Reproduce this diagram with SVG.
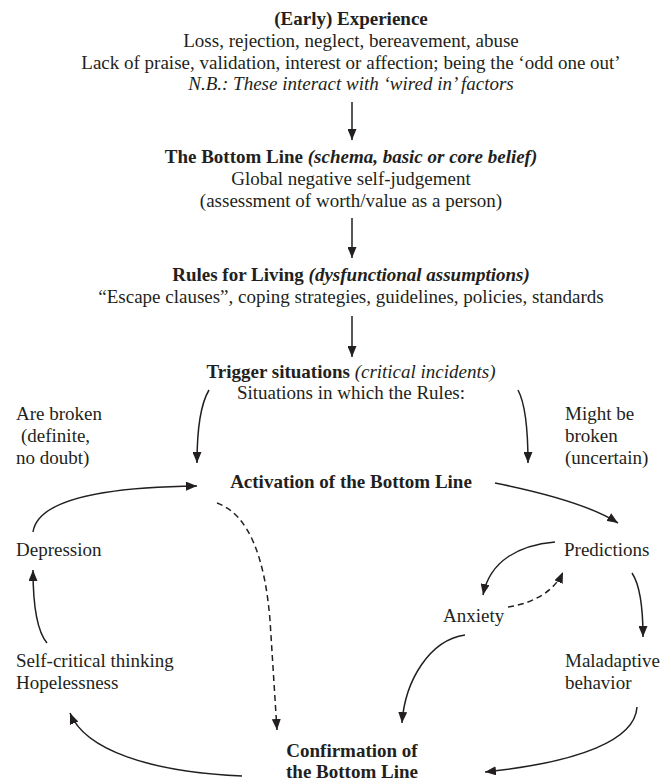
<svg xmlns="http://www.w3.org/2000/svg" width="671" height="784" viewBox="0 0 671 784">
<style>
text{font-family:"Liberation Serif","Times New Roman",serif;font-size:19px;fill:#231f20}
.c{text-anchor:middle}
.b{font-weight:bold}
.i{font-style:italic}
.ln{fill:none;stroke:#231f20;stroke-width:1.5}
.d{stroke-dasharray:6,4}
</style>
<defs>
<marker id="ah" markerUnits="userSpaceOnUse" markerWidth="11" markerHeight="9" refX="11" refY="4.5" orient="auto">
<path d="M0,0 L11,4.5 L0,9 z" fill="#231f20"/>
</marker>
</defs>
<rect width="671" height="784" fill="#fff"/>
<g id="experience">
<text class="c b" x="351" y="25">(Early) Experience</text>
<text class="c" x="351" y="47">Loss, rejection, neglect, bereavement, abuse</text>
<text class="c" x="351" y="69">Lack of praise, validation, interest or affection; being the ‘odd one out’</text>
<text class="c i" x="351" y="90">N.B.: These interact with ‘wired in’ factors</text>
</g>
<g id="bottom-line">
<text class="c" x="351" y="163"><tspan class="b">The Bottom Line </tspan><tspan class="b i">(schema, basic or core belief)</tspan></text>
<text class="c" x="351" y="185">Global negative self-judgement</text>
<text class="c" x="351" y="207">(assessment of worth/value as a person)</text>
</g>
<g id="rules">
<text class="c" x="351" y="281"><tspan class="b">Rules for Living </tspan><tspan class="b i">(dysfunctional assumptions)</tspan></text>
<text class="c" x="351" y="303">“Escape clauses”, coping strategies, guidelines, policies, standards</text>
</g>
<g id="trigger">
<text class="c" x="351" y="378"><tspan class="b">Trigger situations </tspan><tspan class="i">(critical incidents)</tspan></text>
<text class="c" x="351" y="399">Situations in which the Rules:</text>
</g>
<g id="are-broken">
<text x="16" y="420">Are broken</text>
<text x="21" y="442">(definite,</text>
<text x="16" y="464">no doubt)</text>
</g>
<g id="might-be-broken">
<text x="565" y="420">Might be</text>
<text x="565" y="442">broken</text>
<text x="565" y="464">(uncertain)</text>
</g>
<g id="activation">
<text class="c b" x="351" y="488">Activation of the Bottom Line</text>
</g>
<g id="depression">
<text x="16" y="556">Depression</text>
</g>
<g id="predictions">
<text x="564" y="556">Predictions</text>
</g>
<g id="anxiety">
<text x="443" y="622">Anxiety</text>
</g>
<g id="self-critical">
<text x="16" y="667">Self-critical thinking</text>
<text x="16" y="689">Hopelessness</text>
</g>
<g id="maladaptive">
<text x="565" y="667">Maladaptive</text>
<text x="565" y="689">behavior</text>
</g>
<g id="confirmation">
<text class="c b" x="352" y="757">Confirmation of</text>
<text class="c b" x="352" y="778">the Bottom Line</text>
</g>
<g id="connectors">
<path class="ln" d="M352,102 L352,140" marker-end="url(#ah)"/>
<path class="ln" d="M352,218 L352,258" marker-end="url(#ah)"/>
<path class="ln" d="M352,316 L352,357" marker-end="url(#ah)"/>
<path class="ln" d="M209,390 C200,405 197,430 197,463" marker-end="url(#ah)"/>
<path class="ln" d="M518,390 C526,405 528,430 528,463" marker-end="url(#ah)"/>
<path class="ln" d="M33,532 C38,498 110,487 197,486" marker-end="url(#ah)"/>
<path class="ln" d="M495,483 C540,492 590,505 618,523" marker-end="url(#ah)"/>
<path class="ln d" d="M217,503 C250,515 265,560 270,620 L277,730" marker-end="url(#ah)"/>
<path class="ln" d="M555,542 C520,545 490,560 483,595" marker-end="url(#ah)"/>
<path class="ln d" d="M508,607 C535,603 555,590 563,572" marker-end="url(#ah)"/>
<path class="ln" d="M632,573 C640,585 643,610 643,637" marker-end="url(#ah)"/>
<path class="ln" d="M465,635 C430,640 405,680 402,723" marker-end="url(#ah)"/>
<path class="ln" d="M637,707 C635,740 580,762 485,772" marker-end="url(#ah)"/>
<path class="ln" d="M242,776 C150,772 85,750 70,713" marker-end="url(#ah)"/>
<path class="ln" d="M47,643 C36,630 33,600 33,570" marker-end="url(#ah)"/>
</g>
</svg>
